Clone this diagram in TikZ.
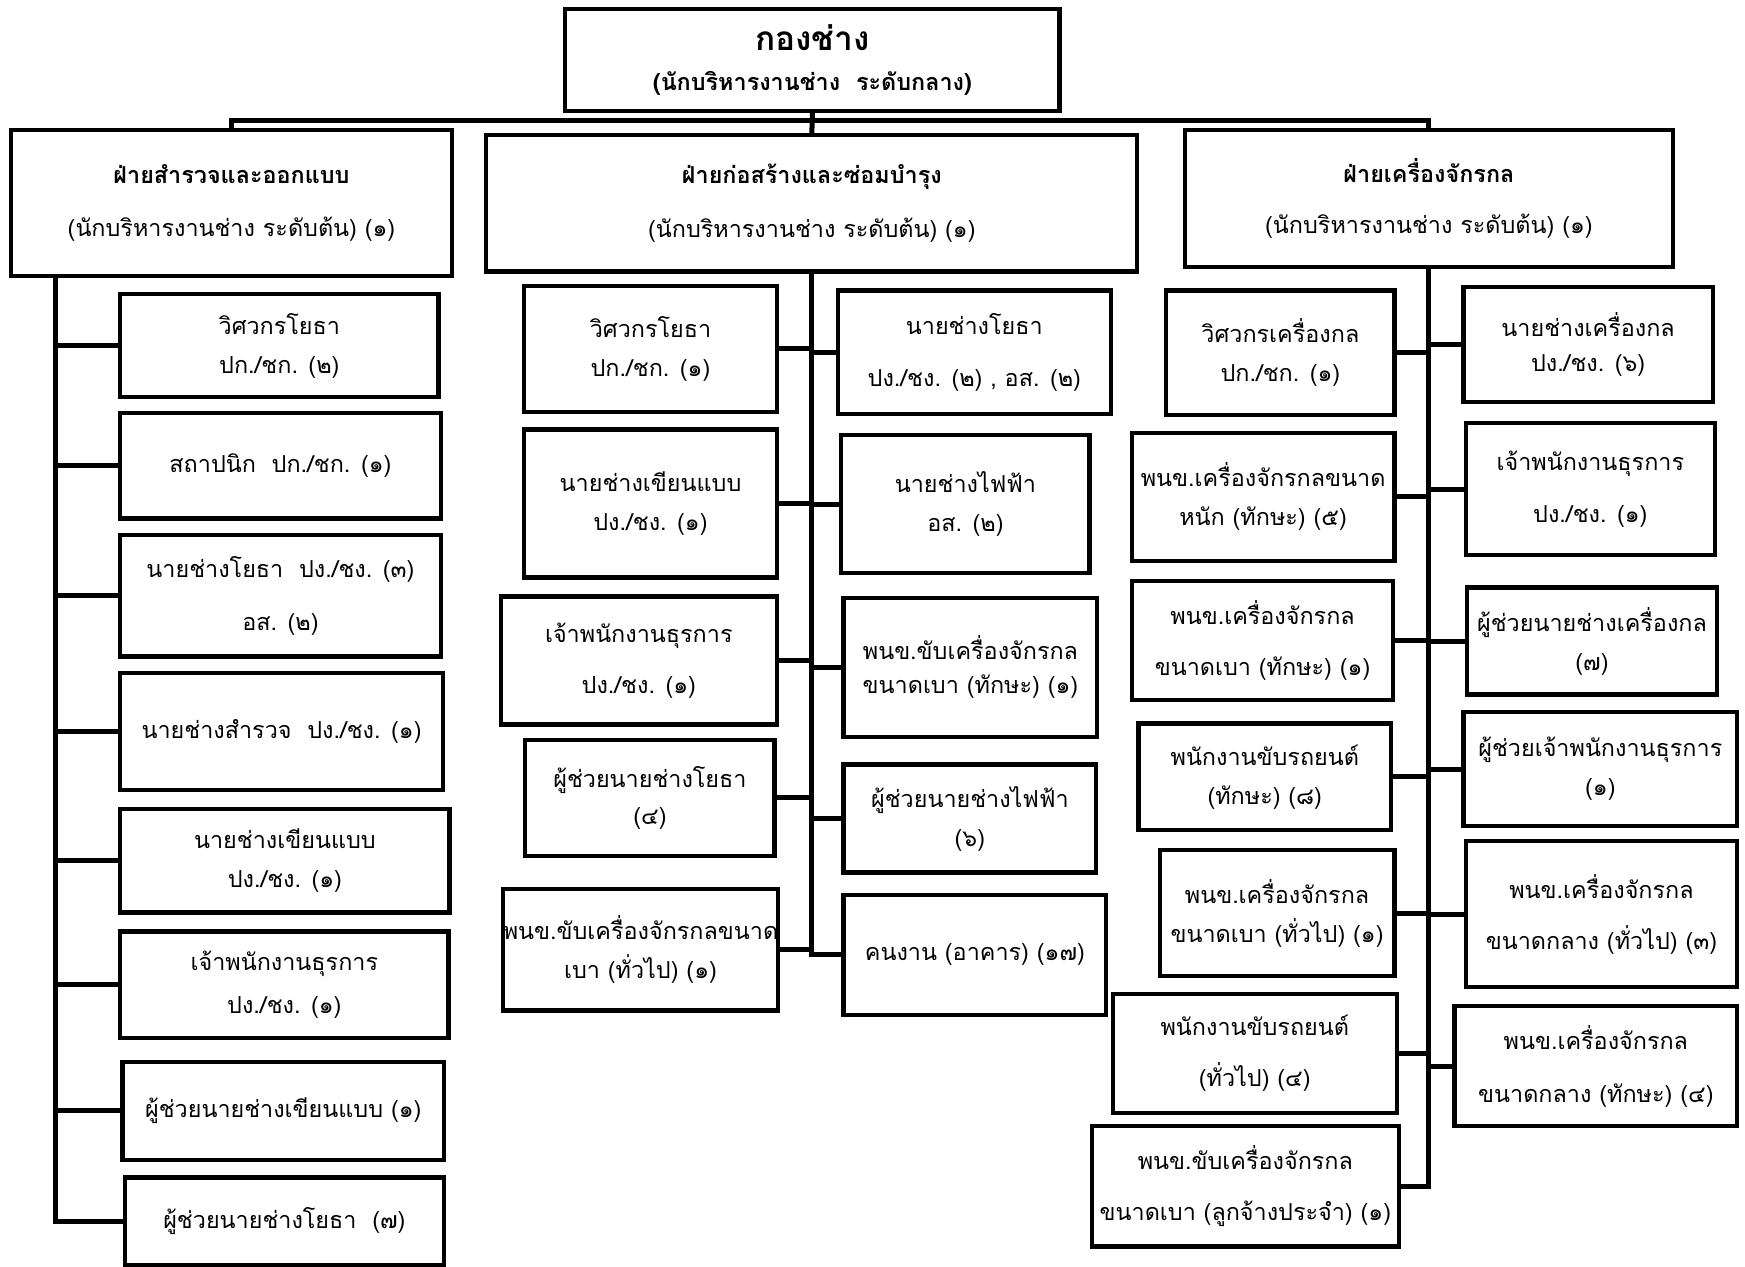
\documentclass[tikz,border=0pt]{standalone}
\usepackage{fontspec}
\setmainfont[Script=Thai]{Loma}
\begin{document}
\begin{tikzpicture}[x=1pt,y=-1pt,
	box/.style={draw,line width=3.8pt,rectangle,align=center,inner sep=0pt,font=\fontsize{21}{35}\selectfont},
	link/.style={line width=4.5pt,line cap=rect}]
				\useasboundingbox (0,0) rectangle (1568,1138);
				
				\node[box,minimum width=444pt,minimum height=92pt] (top) at (730,54) {\raisebox{-4pt}{\fontsize{30}{35}\selectfont\bfseries กองช่าง}\\[5pt]\textbf{(นักบริหารงานช่าง\ \ ระดับกลาง)}};
				
				\node[box,minimum width=396pt,minimum height=131pt] (dL) at (208,182.5) {\textbf{ฝ่ายสำรวจและออกแบบ}\\[13pt](นักบริหารงานช่าง ระดับต้น) (๑)};
				\node[box,minimum width=585pt,minimum height=123pt] (dM) at (729.5,182.5) {\textbf{ฝ่ายก่อสร้างและซ่อมบำรุง}\\[13pt](นักบริหารงานช่าง ระดับต้น) (๑)};
				\node[box,minimum width=438pt,minimum height=123pt] (dR) at (1284,178.5) {\textbf{ฝ่ายเครื่องจักรกล}\\[11pt](นักบริหารงานช่าง ระดับต้น) (๑)};
				
				\node[box,minimum width=286pt,minimum height=93pt] (l1) at (251,310.5) {วิศวกรโยธา\\ปก./ชก. (๒)};
				\node[box,minimum width=288pt,minimum height=95pt] (l2) at (252,418.5) {สถาปนิก\ \ ปก./ชก. (๑)};
				\node[box,minimum width=288pt,minimum height=109pt] (l3) at (252,535.5) {นายช่างโยธา\ \ ปง./ชง. (๓)\\[13pt]อส. (๒)};
				\node[box,minimum width=290pt,minimum height=105pt] (l4) at (253,657.5) {นายช่างสำรวจ\ \ ปง./ชง. (๑)};
				\node[box,minimum width=296pt,minimum height=93pt] (l5) at (256,773.5) {นายช่างเขียนแบบ\\ปง./ชง. (๑)};
				\node[box,minimum width=295pt,minimum height=96pt] (l6) at (255.5,885) {เจ้าพนักงานธุรการ\\[4pt]ปง./ชง. (๑)};
				\node[box,minimum width=289pt,minimum height=88pt] (l7) at (254.5,998) {ผู้ช่วยนายช่างเขียนแบบ (๑)};
				\node[box,minimum width=287pt,minimum height=79pt] (l8) at (255.5,1097.5) {ผู้ช่วยนายช่างโยธา\ \ (๗)};
				
				\node[box,minimum width=227pt,minimum height=113pt] (ml1) at (584.5,313.5) {วิศวกรโยธา\\ปก./ชก. (๑)};
				\node[box,minimum width=227pt,minimum height=133pt] (ml2) at (584.5,452.5) {นายช่างเขียนแบบ\\ปง./ชง. (๑)};
				\node[box,minimum width=248pt,minimum height=115pt] (ml3) at (574,593.5) {เจ้าพนักงานธุรการ\\[11pt]ปง./ชง. (๑)};
				\node[box,minimum width=224pt,minimum height=104pt] (ml4) at (584,717) {ผู้ช่วยนายช่างโยธา\\[-2pt](๔)};
				\node[box,minimum width=245pt,minimum height=109pt] (ml5) at (575.5,853.5) {พนข.ขับเครื่องจักรกลขนาด\\เบา (ทั่วไป) (๑)};
				
				\node[box,minimum width=245pt,minimum height=111pt] (mr1) at (875.5,316.5) {นายช่างโยธา\\[12pt]ปง./ชง. (๒) , อส. (๒)};
				\node[box,minimum width=223pt,minimum height=124pt] (mr2) at (867.5,453) {นายช่างไฟฟ้า\\อส. (๒)};
				\node[box,minimum width=228pt,minimum height=125pt] (mr3) at (872,599.5) {พนข.ขับเครื่องจักรกล\\[-4pt]ขนาดเบา (ทักษะ) (๑)};
				\node[box,minimum width=227pt,minimum height=97pt] (mr4) at (871.5,735.5) {ผู้ช่วยนายช่างไฟฟ้า\\(๖)};
				\node[box,minimum width=236pt,minimum height=108pt] (mr5) at (876,858) {คนงาน (อาคาร) (๑๗)};
				
				\node[box,minimum width=205pt,minimum height=112pt] (rl1) at (1150.5,317) {วิศวกรเครื่องกล\\ปก./ชก. (๑)};
				\node[box,minimum width=236pt,minimum height=115pt] (rl2) at (1135,446.5) {พนข.เครื่องจักรกลขนาด\\หนัก (ทักษะ) (๕)};
				\node[box,minimum width=235pt,minimum height=107pt] (rl3) at (1134.5,575.5) {พนข.เครื่องจักรกล\\[11pt]ขนาดเบา (ทักษะ) (๑)};
				\node[box,minimum width=227pt,minimum height=96pt] (rl4) at (1136.5,698) {พนักงานขับรถยนต์\\(ทักษะ) (๘)};
				\node[box,minimum width=211pt,minimum height=113pt] (rl5) at (1147.5,820.5) {พนข.เครื่องจักรกล\\ขนาดเบา (ทั่วไป) (๑)};
				\node[box,minimum width=255pt,minimum height=107pt] (rl6) at (1127.5,946.5) {พนักงานขับรถยนต์\\[11pt](ทั่วไป) (๔)};
				\node[box,minimum width=276pt,minimum height=108pt] (rl7) at (1119,1066) {พนข.ขับเครื่องจักรกล\\[11pt]ขนาดเบา (ลูกจ้างประจำ) (๑)};
				
				\node[box,minimum width=224pt,minimum height=103pt] (rr1) at (1427,309.5) {นายช่างเครื่องกล\\[-3pt]ปง./ชง. (๖)};
				\node[box,minimum width=224pt,minimum height=119pt] (rr2) at (1429,439.5) {เจ้าพนักงานธุรการ\\[12pt]ปง./ชง. (๑)};
				\node[box,minimum width=225pt,minimum height=96pt] (rr3) at (1430.5,576) {ผู้ช่วยนายช่างเครื่องกล\\(๗)};
				\node[box,minimum width=246pt,minimum height=102pt] (rr4) at (1438,691) {ผู้ช่วยเจ้าพนักงานธุรการ\\(๑)};
				\node[box,minimum width=244pt,minimum height=131pt] (rr5) at (1439,821.5) {พนข.เครื่องจักรกล\\[11pt]ขนาดกลาง (ทั่วไป) (๓)};
				\node[box,minimum width=254pt,minimum height=108pt] (rr6) at (1434,958) {พนข.เครื่องจักรกล\\[13pt]ขนาดกลาง (ทักษะ) (๔)};
				
				\coordinate (bus) at (730,108);
				\coordinate (tL) at (50,0);
				\draw[link] (dL.north) |- (bus) -| (dR.north);
				\draw[link] (top.south) -- (dM.north);
				
				\draw[link] (tL |- dL.south) -- (tL |- l8.west);
				\foreach \n in {l1,l2,l3,l4,l5,l6,l7,l8}
					\draw[link] (tL |- \n.west) -- (\n.west);
				
				\draw[link] (dM.south) -- (dM.south |- mr5.west);
				\foreach \n in {ml1,ml2,ml3,ml4,ml5}
					\draw[link] (\n.east) -- (dM.south |- \n.east);
				\foreach \n in {mr1,mr2,mr3,mr4,mr5}
					\draw[link] (dM.south |- \n.west) -- (\n.west);
				
				\draw[link] (dR.south) -- (dR.south |- rl7.east);
				\foreach \n in {rl1,rl2,rl3,rl4,rl5,rl6,rl7}
					\draw[link] (\n.east) -- (dR.south |- \n.east);
				\foreach \n in {rr1,rr2,rr3,rr4,rr5,rr6}
					\draw[link] (dR.south |- \n.west) -- (\n.west);
			\end{tikzpicture}
\end{document}
